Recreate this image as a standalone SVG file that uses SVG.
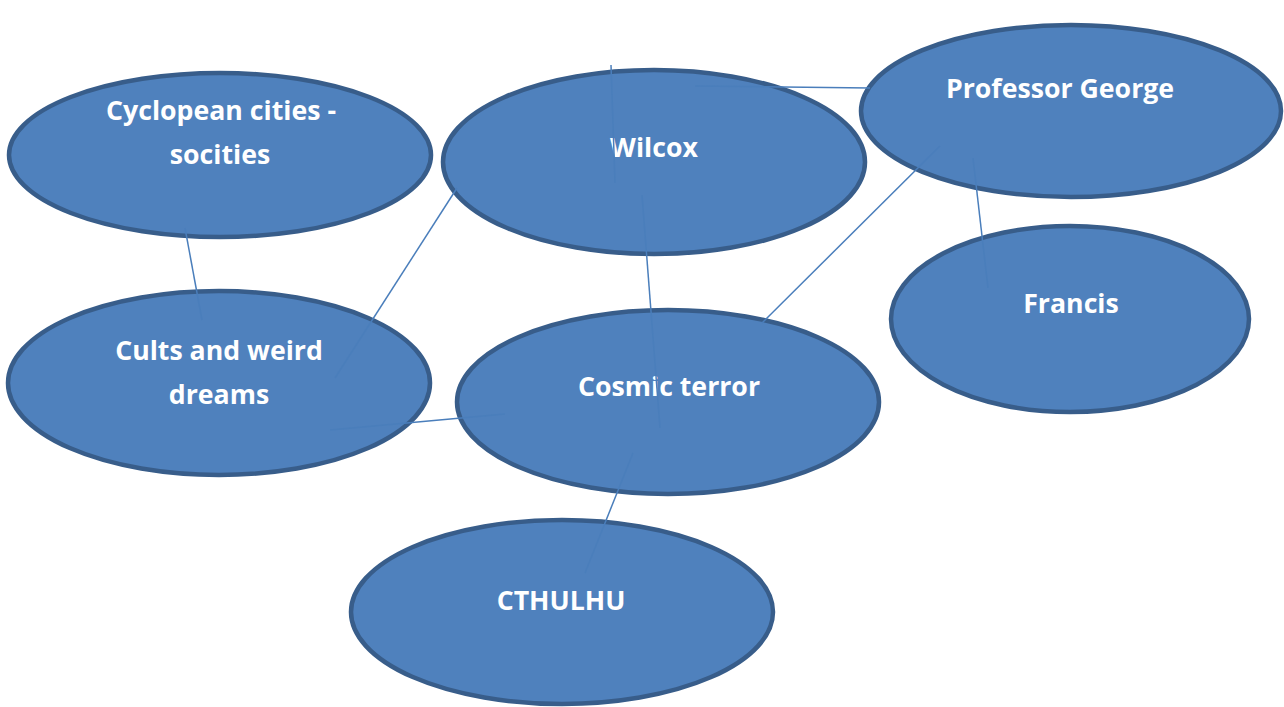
<svg xmlns="http://www.w3.org/2000/svg" width="1284" height="707" viewBox="0 0 1284 707">
<style>
.n{fill:#4f81bd;stroke:#385d8a;stroke-width:4.5}
.t{fill:#ffffff;font-family:"Open Sans",Lato,sans-serif;font-weight:bold;font-size:26.7px;text-anchor:middle}
.c line{stroke:#4a7ebb;stroke-width:1.5;fill:none}
</style>
<rect width="1284" height="707" fill="#ffffff"/>
<g id="n-cyclopean"><ellipse class="n" cx="220" cy="155" rx="211" ry="82"/><text class="t" x="221" y="120">Cyclopean cities -</text><text class="t" x="220" y="164">socities</text></g>
<g id="n-wilcox"><ellipse class="n" cx="654" cy="162" rx="211" ry="92"/><text class="t" x="654" y="157">Wilcox</text></g>
<g id="n-professor"><ellipse class="n" cx="1071" cy="111" rx="210" ry="86"/><text class="t" x="1060" y="98">Professor George</text></g>
<g id="n-francis"><ellipse class="n" cx="1070" cy="319" rx="179" ry="93"/><text class="t" x="1071" y="313">Francis</text></g>
<g id="n-cults"><ellipse class="n" cx="219" cy="383" rx="211" ry="92"/><text class="t" x="219" y="360">Cults and weird</text><text class="t" x="219" y="404">dreams</text></g>
<g id="n-cosmic"><ellipse class="n" cx="668" cy="402" rx="211" ry="92"/><text class="t" x="669" y="396">Cosmic terror</text></g>
<g id="n-cthulhu"><ellipse class="n" cx="562" cy="612" rx="211" ry="92"/><text class="t" x="561" y="610">CTHULHU</text></g>
<g id="connectors" class="c">
<line x1="695" y1="86" x2="870" y2="88"/>
<line x1="611" y1="65" x2="615" y2="183"/>
<line x1="642" y1="195" x2="660" y2="428"/>
<line x1="940" y1="146" x2="762" y2="323"/>
<line x1="973" y1="158" x2="988" y2="288"/>
<line x1="185" y1="228" x2="202" y2="320"/>
<line x1="457" y1="188" x2="335" y2="378"/>
<line x1="330" y1="430" x2="505" y2="414"/>
<line x1="633" y1="453" x2="585" y2="573"/>
</g>
</svg>
